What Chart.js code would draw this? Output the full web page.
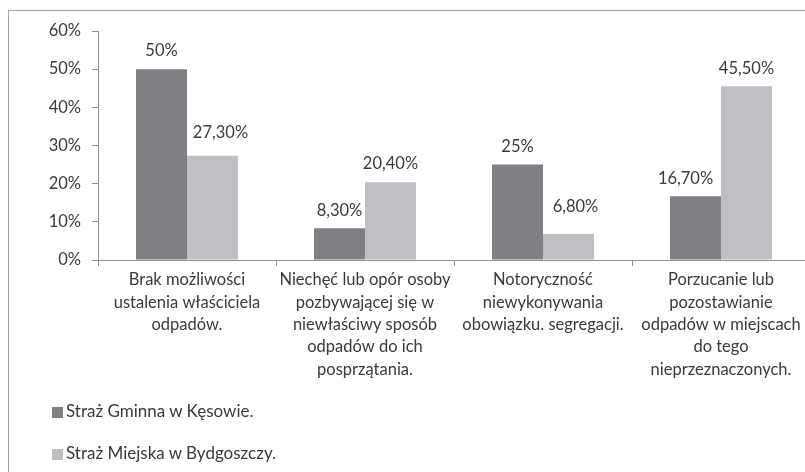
<!DOCTYPE html>
<html>
<head>
<meta charset="utf-8">
<script src="https://cdn.jsdelivr.net/npm/chart.js@4"></script>
<style>
  html, body { margin: 0; padding: 0; background: #fff; overflow: hidden; width: 805px; height: 472px; }
  #frame { position: absolute; left: 8px; top: 10px; width: 1000px; height: 1000px; border: 1px solid #a3a3a3; }
  #chart { position: absolute; left: 0; top: 0; }
  #legend { position: absolute; left: 52px; top: 401px; font-family: Lato, sans-serif; font-size: 17px; color: #3a3a3a; }
  #legend .item { position: absolute; left: 0; white-space: nowrap; height: 20px; line-height: 20px; }
  #legend .box { display: inline-block; width: 11px; height: 11px; margin-right: 3px; vertical-align: -1px; }
</style>
</head>
<body>
<div id="frame"></div>
<canvas id="chart" width="830" height="472"></canvas>
<div id="legend"></div>
<script>
const categories = [
    ['Brak możliwości', 'ustalenia właściciela', 'odpadów.'],
    ['Niechęć lub opór osoby', 'pozbywającej się w', 'niewłaściwy sposób', 'odpadów do ich', 'posprzątania.'],
    ['Notoryczność', 'niewykonywania', 'obowiązku. segregacji.'],
    ['Porzucanie lub', 'pozostawianie', 'odpadów w miejscach', 'do tego', 'nieprzeznaczonych.']
];
const seriesNames = ['Straż Gminna w Kęsowie.', 'Straż Miejska w Bydgoszczy.'];
const kesowo = [50, 8.3, 25, 16.7];
const bydgoszcz = [27.3, 20.4, 6.8, 45.5];
const yTicks = [0, 10, 20, 30, 40, 50, 60];

const FONT = 'Lato, sans-serif';
const TEXT = '#3a3a3a';
const AXIS = '#8e8e8e';

const fmt = (v) => (Number.isInteger(v) ? String(v) : v.toFixed(2).replace('.', ',')) + '%';

// a few labels were dragged by hand in the original
const labelNudge = { '0-3': [-10, 0], '1-0': [8, -5], '1-2': [7, -9] };

// value labels above bars
const valueLabels = {
    id: 'valueLabels',
    afterDatasetsDraw(chart) {
        const ctx = chart.ctx;
        ctx.save();
        ctx.font = '16.5px ' + FONT;
        ctx.fillStyle = TEXT;
        ctx.textAlign = 'center';
        ctx.textBaseline = 'middle';
        chart.data.datasets.forEach((ds, i) => {
            chart.getDatasetMeta(i).data.forEach((bar, j) => {
                const [dx, dy] = labelNudge[i + '-' + j] || [0, 0];
                ctx.fillText(fmt(ds.data[j]), bar.x + dx, bar.y - 18 + dy);
            });
        });
        ctx.restore();
    }
};

const chart = new Chart(document.getElementById('chart').getContext('2d'), {
    type: 'bar',
    data: {
        labels: categories,
        datasets: [{
            label: seriesNames[0],
            data: kesowo,
            backgroundColor: '#7f8084',
            borderWidth: 0
        }, {
            label: seriesNames[1],
            data: bydgoszcz,
            backgroundColor: '#bebfc3',
            borderWidth: 0
        }]
    },
    options: {
        responsive: false,
        animation: false,
        events: [],
        categoryPercentage: 0.573,
        barPercentage: 1,
        layout: { padding: { top: 31, left: 0, right: 20, bottom: 0 } },
        plugins: {
            legend: { display: false },
            tooltip: { enabled: false }
        },
        scales: {
            y: {
                min: 0,
                max: 60,
                afterFit: (s) => { s.width = 98; },
                afterBuildTicks: (s) => { s.ticks = yTicks.map(v => ({ value: v })); },
                border: { color: AXIS },
                grid: { drawOnChartArea: false, drawTicks: true, tickLength: 6, color: AXIS },
                ticks: {
                    padding: 11,
                    color: TEXT,
                    font: { family: FONT, size: 16.5 },
                    callback: (v) => v + '%'
                }
            },
            x: {
                afterFit: (s) => { s.height = 212; },
                border: { color: AXIS },
                grid: { drawOnChartArea: false, drawTicks: true, tickLength: 6, color: AXIS },
                ticks: {
                    padding: 3,
                    maxRotation: 0,
                    autoSkip: false,
                    color: TEXT,
                    font: { family: FONT, size: 16.5, lineHeight: 1.35 }
                }
            }
        }
    },
    plugins: [valueLabels]
});

// vertical legend in the bottom-left corner
const legend = document.getElementById('legend');
chart.data.datasets.forEach((ds, i) => {
    const item = document.createElement('div');
    item.className = 'item';
    item.style.top = (i * 42) + 'px';
    const box = document.createElement('span');
    box.className = 'box';
    box.style.background = ds.backgroundColor;
    item.appendChild(box);
    item.appendChild(document.createTextNode(ds.label));
    legend.appendChild(item);
});
</script>
</body>
</html>
